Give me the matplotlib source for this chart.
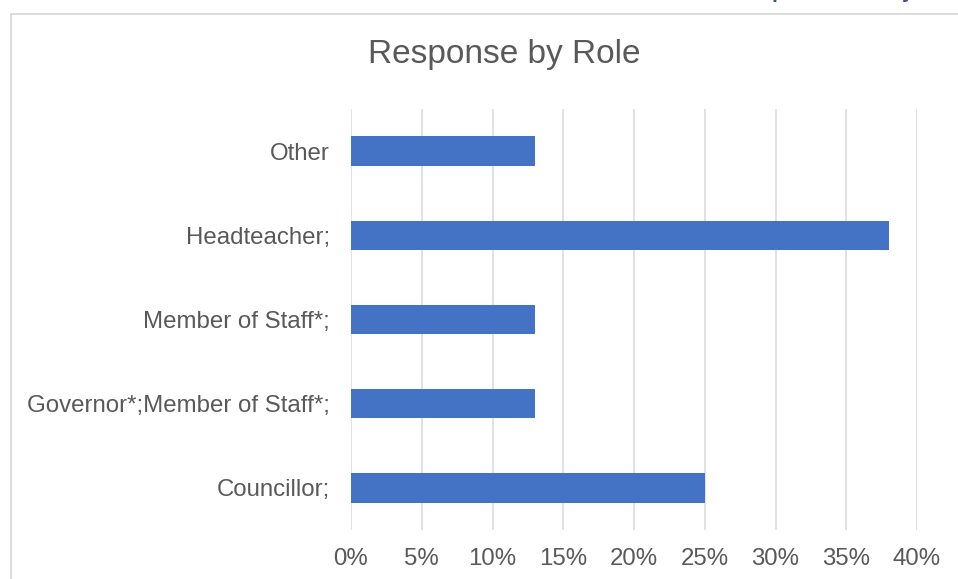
import matplotlib
matplotlib.use("Agg")
import matplotlib.pyplot as plt
from matplotlib.patches import Rectangle
from matplotlib.ticker import FuncFormatter

categories = ["Councillor;", "Governor*;Member of Staff*;", "Member of Staff*;", "Headteacher;", "Other"]
values = [25, 13, 13, 38, 13]
xticks = [0, 5, 10, 15, 20, 25, 30, 35, 40]

W, H = 958, 579
fig = plt.figure(figsize=(W / 100, H / 100), dpi=100)
plt.rcParams['font.family'] = ['Liberation Sans', 'DejaVu Sans']

# outer chart frame (extends beyond right/bottom)
fig.patches.append(Rectangle((10.5 / W, -0.1), 1.2, 1.1 - 13.5 / H + 0.0,
                             transform=fig.transFigure, fill=False,
                             edgecolor='#d9d9d9', lw=1.3))

ax = fig.add_axes([351 / W, 1 - 530 / H, (917 - 351) / W, (530 - 109) / H])
ax.barh(range(len(categories)), values, height=0.35, color='#4472C4', zorder=3)
ax.set_xlim(0, 40)
ax.set_ylim(-0.5, len(categories) - 0.5)
ax.set_xticks(xticks)
ax.xaxis.set_major_formatter(FuncFormatter(lambda v, p: f"{int(v)}%"))
ax.set_yticks(range(len(categories)))
ax.set_yticklabels(categories)
ax.grid(axis='x', color='#d9d9d9', lw=1.1, zorder=0)
for s in ax.spines.values():
    s.set_visible(False)
ax.tick_params(axis='both', length=0, labelsize=17.3, colors='#595959')
ax.tick_params(axis='x', pad=13)
ax.tick_params(axis='y', pad=15)

fig.text(504 / W, 1 - 55 / H, "Response by Role", ha='center', va='center',
         fontsize=24, color='#595959')

# cut-off heading text above the chart (only descenders visible)
fig.text(772 / W, 1 + 1.5 / H, "p", ha='left', va='baseline', fontsize=15,
         fontweight='bold', color='#2F5597')
fig.text(902 / W, 1 + 1.5 / H, "y", ha='left', va='baseline', fontsize=15,
         fontweight='bold', color='#2F5597')

fig.savefig("out.png", dpi=100)
